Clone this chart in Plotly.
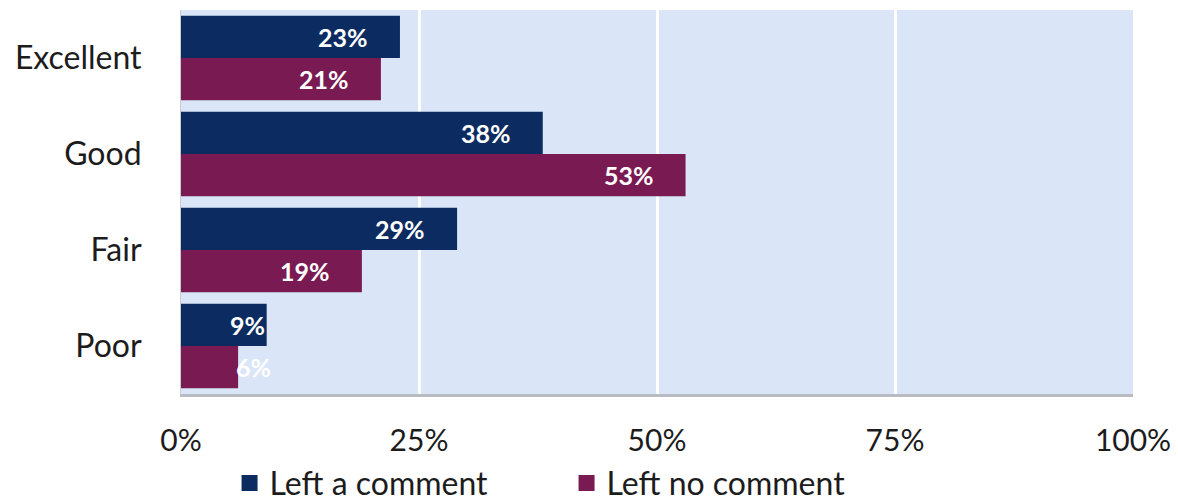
import plotly.graph_objects as go

categories = ["Excellent", "Good", "Fair", "Poor"]
left_comment = [23, 38, 29, 9]
no_comment = [21, 53, 19, 6]
tick_vals = [0, 25, 50, 75, 100]
tick_text = ["0%", "25%", "50%", "75%", "100%"]

NAVY = "#0c2c61"
MAROON = "#7a1a52"
TEXT = "#1c1c1c"
FONT = "Lato"

# horizontal pixel shift of each value label's right edge from the bar end
label_shift_comment = [-30, -30, -30, 0]
label_shift_none = [-30, -30, -30, 35]

fig = go.Figure()
series = [
    ("Left a comment", left_comment, NAVY, label_shift_comment, -0.22),
    ("Left no comment", no_comment, MAROON, label_shift_none, 0.22),
]
for name, vals, color, shifts, yoff in series:
    fig.add_trace(go.Bar(
        y=categories, x=vals, orientation="h", name=name,
        marker=dict(color=color, line=dict(width=0)),
        showlegend=False,
    ))
    # legend swatch
    fig.add_trace(go.Scatter(
        x=[None], y=[None], mode="markers", name=name,
        marker=dict(symbol="square", size=17, color=color),
    ))
    for i, (cat, v) in enumerate(zip(categories, vals)):
        fig.add_annotation(
            x=v, y=i + yoff, yref="y", xref="x",
            text=f"<b>{v}%</b>", showarrow=False,
            xanchor="right", yanchor="middle", xshift=shifts[i],
            font=dict(family=FONT, size=25, color="white"),
        )

fig.update_layout(
    width=1178, height=504,
    margin=dict(l=181, r=45, t=10, b=110, autoexpand=False),
    paper_bgcolor="white", plot_bgcolor="#dae6f7",
    barmode="group", bargap=0.12, bargroupgap=0,
    font=dict(family=FONT, color=TEXT),
    showlegend=True,
    legend=dict(orientation="h", x=0.051, xanchor="left", y=-0.232, yanchor="middle",
                font=dict(family=FONT, size=32, color=TEXT),
                itemwidth=30, entrywidth=292, entrywidthmode="pixels",
                traceorder="normal", tracegroupgap=0,
                bgcolor="rgba(0,0,0,0)"),
    xaxis=dict(range=[0, 100], tickvals=tick_vals, ticktext=tick_text,
               showgrid=True, gridcolor="white", gridwidth=3,
               zeroline=False, showline=True, linecolor="#b8bcc2", linewidth=3,
               tickfont=dict(family=FONT, size=30, color=TEXT), ticks="",
               ticklabelstandoff=18),
    yaxis=dict(range=[3.5, -0.5], showgrid=False, zeroline=False,
               showline=True, linecolor="#c8ccd2", linewidth=1,
               tickfont=dict(family=FONT, size=32, color=TEXT), ticks="",
               ticklabelstandoff=32),
)

fig.write_html("out.html")
